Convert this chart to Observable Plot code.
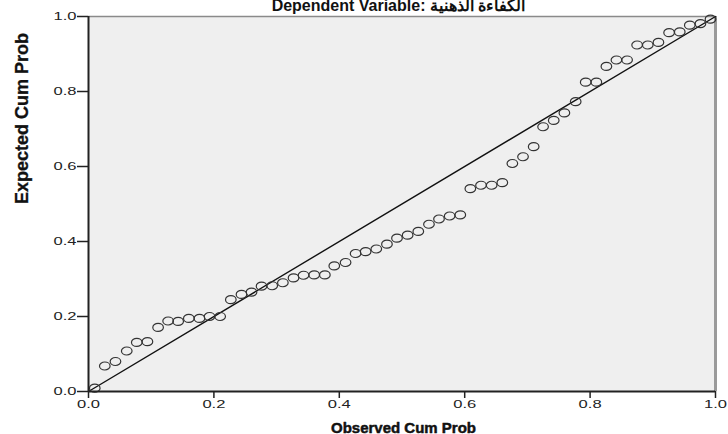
<!DOCTYPE html>
<html>
<head>
<meta charset="utf-8">
<script src="https://cdn.jsdelivr.net/npm/d3@7"></script>
<script src="https://cdn.jsdelivr.net/npm/@observablehq/plot@0.6"></script>
<style>
  html, body { margin: 0; padding: 0; background: #fff; }
  #chart svg { display: block; font-family: "Liberation Sans", Arial, sans-serif; }
</style>
</head>
<body>
<div id="chart"></div>
<script>
const observedCumProb = [
  0.010, 0.026, 0.043, 0.061, 0.077, 0.094, 0.111, 0.127, 0.143, 0.160,
  0.177, 0.193, 0.210, 0.227, 0.244, 0.260, 0.276, 0.293, 0.310, 0.327,
  0.343, 0.360, 0.377, 0.392, 0.410, 0.426, 0.442, 0.459, 0.476, 0.492,
  0.509, 0.526, 0.543, 0.559, 0.576, 0.593, 0.609, 0.626, 0.643, 0.660,
  0.676, 0.693, 0.710, 0.725, 0.742, 0.759, 0.777, 0.793, 0.810, 0.826,
  0.842, 0.859, 0.875, 0.892, 0.909, 0.926, 0.943, 0.959, 0.976, 0.992
];
const expectedCumProb = [
  0.009, 0.068, 0.080, 0.108, 0.131, 0.133, 0.171, 0.188, 0.187, 0.195,
  0.195, 0.200, 0.200, 0.245, 0.259, 0.265, 0.281, 0.282, 0.290, 0.303,
  0.310, 0.311, 0.311, 0.335, 0.344, 0.368, 0.373, 0.380, 0.393, 0.409,
  0.417, 0.427, 0.446, 0.460, 0.468, 0.471, 0.541, 0.550, 0.550, 0.557,
  0.608, 0.626, 0.653, 0.706, 0.723, 0.743, 0.773, 0.825, 0.825, 0.867,
  0.884, 0.884, 0.924, 0.924, 0.931, 0.957, 0.959, 0.977, 0.981, 0.993
];
const diagonal = [0, 1];
const tickValues = [0, 0.2, 0.4, 0.6, 0.8, 1.0];
const chartTitle = "Dependent Variable: الكفاءة الذهنية";
const xTitle = "Observed Cum Prob";
const yTitle = "Expected Cum Prob";

const points = observedCumProb.map((x, i) => ({x, y: expectedCumProb[i]}));
const diagPts = diagonal.map(v => ({x: v, y: v}));

// open ellipse symbol (SPSS circles appear slightly stretched)
const ellipse = {
  draw(ctx) {
    const rx = 5.3, ry = 4, k = 0.5523;
    ctx.moveTo(rx, 0);
    ctx.bezierCurveTo(rx, ry * k, rx * k, ry, 0, ry);
    ctx.bezierCurveTo(-rx * k, ry, -rx, ry * k, -rx, 0);
    ctx.bezierCurveTo(-rx, -ry * k, -rx * k, -ry, 0, -ry);
    ctx.bezierCurveTo(rx * k, -ry, rx, -ry * k, rx, 0);
    ctx.closePath();
  }
};

const plot = Plot.plot({
  width: 728,
  height: 434,
  marginLeft: 88,
  marginRight: 13,
  marginTop: 16,
  marginBottom: 43,
  style: {fontFamily: "Liberation Sans, Arial, sans-serif", color: "#222", overflow: "visible"},
  x: {domain: [0, 1], axis: null},
  y: {domain: [0, 1], axis: null},
  marks: [
    Plot.frame({fill: "#efefef", stroke: null}),
    Plot.ruleY([1], {stroke: "#8a8a8a", strokeWidth: 1.5}),
    Plot.ruleX([1], {stroke: "#9a9a9a", strokeWidth: 3}),
    Plot.line(diagPts, {x: "x", y: "y", stroke: "#111", strokeWidth: 1.4}),
    Plot.dot(points, {x: "x", y: "y", symbol: ellipse, r: 4.5, stroke: "#333", strokeWidth: 1.2, fill: "none"}),
    Plot.ruleX([0], {stroke: "#222", strokeWidth: 2}),
    Plot.ruleY([0], {stroke: "#222", strokeWidth: 2}),
    Plot.axisX({ticks: tickValues, tickFormat: d3.format(".1f"), tickSize: 7, tickPadding: 2, fontSize: 11, stroke: "#222", strokeWidth: 1.5, label: null}),
    Plot.axisY({ticks: tickValues, tickFormat: d3.format(".1f"), tickSize: 11, tickPadding: 1, fontSize: 11, stroke: "#222", strokeWidth: 1.5, label: null}),
    Plot.text([xTitle], {text: d => d, frameAnchor: "bottom", lineAnchor: "bottom", dy: 41, dx: 1.5, fontSize: 15, fontWeight: "bold", fill: "#111", stroke: "#111", strokeWidth: 0.5, ariaLabel: "xtitle"}),
    Plot.text([yTitle], {text: d => d, frameAnchor: "left", rotate: -90, dx: -66, fontSize: 18, fontWeight: "bold", fill: "#111", stroke: "#111", strokeWidth: 0.3, ariaLabel: "ytitle"}),
    Plot.text([chartTitle], {text: d => d, frameAnchor: "top", lineAnchor: "bottom", dy: -6, dx: -3.5, fontSize: 16, fontWeight: "bold", fill: "#111", ariaLabel: "ctitle"})
  ]
});
document.getElementById("chart").appendChild(plot);

// stretch text horizontally like the SPSS export
const svg = d3.select(plot);
svg.selectAll('g[aria-label="x-axis tick label"] text, g[aria-label="y-axis tick label"] text')
  .attr("textLength", 23).attr("lengthAdjust", "spacingAndGlyphs");
svg.selectAll('g[aria-label="xtitle"] text').attr("textLength", 240).attr("lengthAdjust", "spacingAndGlyphs");
svg.selectAll('g[aria-label="ytitle"] text').attr("textLength", 138).attr("lengthAdjust", "spacingAndGlyphs").style("font-family", "'Liberation Sans Narrow', 'DejaVu Sans Condensed', sans-serif");
svg.selectAll('g[aria-label="ctitle"] text').attr("textLength", 340).attr("lengthAdjust", "spacingAndGlyphs");
</script>
</body>
</html>
